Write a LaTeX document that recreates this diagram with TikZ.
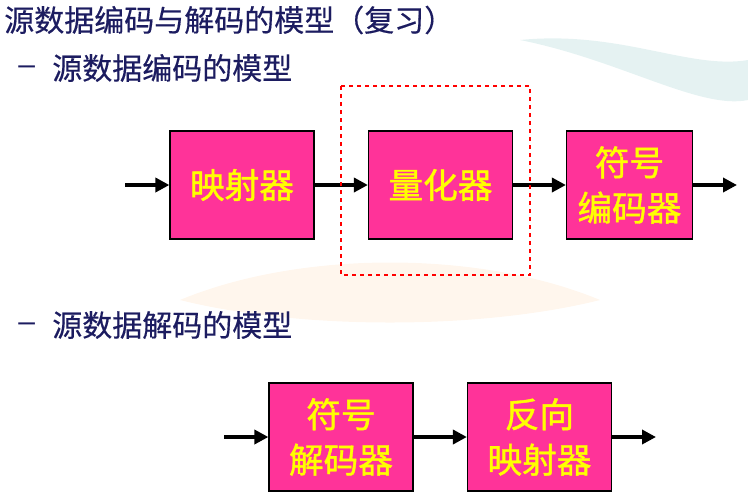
\documentclass[tikz,border=0pt]{standalone}
\usepackage{fontspec}
\setmainfont{Noto Sans CJK SC}
\newfontfamily\boxfont[FakeBold=1.2]{Noto Sans CJK SC}
\newfontfamily\headfont[FakeBold=0.4]{Noto Sans CJK SC}
\newfontfamily\dashfont{Liberation Sans}
\usetikzlibrary{arrows.meta}
\definecolor{navy}{RGB}{28,28,96}
\definecolor{boxpink}{RGB}{255,51,153}
\definecolor{boxtext}{RGB}{255,255,0}
\tikzset{
    blockbox/.style={draw=black, line width=0.9pt, fill=boxpink, text=boxtext,
        font=\boxfont\fontsize{26}{34}\selectfont, align=center, inner sep=0pt,
        minimum width=108pt, minimum height=81pt},
    flow/.style={line width=3.5pt, -{Triangle[length=10.5pt,width=10.5pt]}},
    heading/.style={text=navy, anchor=west, inner sep=0pt,
        font=\headfont\fontsize{22.5}{26}\selectfont}
}
\begin{document}
\begin{tikzpicture}[x=0.75pt, y=-0.75pt]
    \useasboundingbox (0,0) rectangle (748,497);
    % faint background swirls
    \fill[teal!40, opacity=0.25] (520,40) .. controls (620,60) and (700,110) .. (748,100)
        -- (748,60) .. controls (690,70) and (620,30) .. (520,40);
    \fill[orange!40, opacity=0.18] (180,300) .. controls (300,250) and (480,250) .. (600,300)
        .. controls (480,330) and (300,330) .. (180,300);
    % headings
    \node[heading] (title) at (4,20) {源数据编码与解码的模型（复习）};
    \node[heading, font=\dashfont\fontsize{22.5}{26}\selectfont] (dashA) at (18,70) {–};
    \node[heading] (encA) at (52,68) {源数据编码的模型};
    \node[heading, font=\dashfont\fontsize{22.5}{26}\selectfont] (dashB) at (18,327) {–};
    \node[heading] (decA) at (52,325) {源数据解码的模型};
    % encoder
    \node[blockbox] (mapper) at (242,185) {映射器};
    \node[blockbox] (quant) at (440.5,185) {量化器};
    \node[blockbox, minimum width=94.5pt] (symenc) at (629.5,185) {符号\\编码器};
    \coordinate (encin) at (125,185);
    \coordinate (encout) at (737,185);
    \draw[flow] (encin) -- (mapper);
    \draw[flow] (mapper) -- (quant);
    \draw[flow] (quant) -- (symenc);
    \draw[flow] (symenc) -- (encout);
    \draw[red, dashed, line width=0.8pt] (341,86) rectangle (530,275);
    % decoder
    \node[blockbox] (symdec) at (341,437) {符号\\解码器};
    \node[blockbox] (invmap) at (539.5,437) {反向\\映射器};
    \coordinate (decin) at (224,437);
    \coordinate (decout) at (656,437);
    \draw[flow] (decin) -- (symdec);
    \draw[flow] (symdec) -- (invmap);
    \draw[flow] (invmap) -- (decout);
\end{tikzpicture}
\end{document}
